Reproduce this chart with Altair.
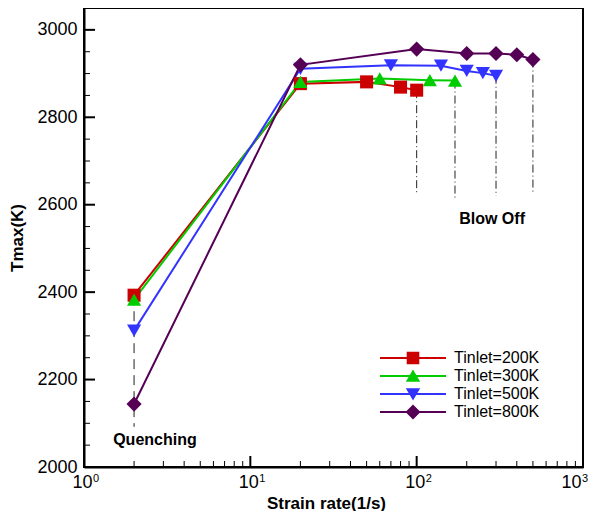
import altair as alt
import pandas as pd

series = ["Tinlet=200K", "Tinlet=300K", "Tinlet=500K", "Tinlet=800K"]
colors = ["#CC0000", "#00CC00", "#3333FF", "#550055"]
shapes = ["square", "triangle-up", "triangle-down", "diamond"]
marker_sizes = [170, 200, 200, 230]

rate_200 = [2, 20, 50, 80, 100]
tmax_200 = [2393, 2877, 2881, 2869, 2862]
rate_300 = [2, 20, 60, 120, 170]
tmax_300 = [2383, 2881, 2889, 2885, 2884]
rate_500 = [2, 20, 70, 140, 200, 250, 300]
tmax_500 = [2312, 2911, 2919, 2918, 2906, 2901, 2895]
rate_800 = [2, 20, 100, 200, 300, 400, 500]
tmax_800 = [2144, 2920, 2956, 2946, 2946, 2943, 2932]

# blow-off guide lines (x, top, bottom) and quenching guide line
blow_x = [100, 170, 300, 500]
blow_top = [2862, 2884, 2895, 2932]
blow_bottom = [2625, 2615, 2620, 2627]
quench_x = [2]
quench_top = [2393]
quench_bottom = [2092]

note_text = ["Quenching", "Blow Off"]
note_x = [2.67, 284]
note_y = [2062, 2567]

y_major = [2000, 2200, 2400, 2600, 2800, 3000]
y_minor = [v for v in range(2050, 3050, 50) if v % 200 != 0]
x_major = [1, 10, 100, 1000]
x_exp = ["0", "1", "2", "3"]
x_minor = [m * d for d in [1, 10, 100] for m in range(2, 10)]

# legend symbols: line segment + marker (custom SVG paths)
LINE = "M-5.5,-0.17H5.5V0.17H-5.5Z "
legend_paths = [
    LINE + "M-1.05,-1.05H1.05V1.05H-1.05Z",
    LINE + "M0,-1.1L1.2,0.95L-1.2,0.95Z",
    LINE + "M-1.2,-0.95L1.2,-0.95L0,1.1Z",
    LINE + "M0,-1.25L1.25,0L0,1.25L-1.25,0Z",
]

rows = []
for s, xs, ys in zip(series, [rate_200, rate_300, rate_500, rate_800],
                     [tmax_200, tmax_300, tmax_500, tmax_800]):
    for xv, yv in zip(xs, ys):
        rows.append({"series": s, "rate": xv, "tmax": yv})
df = pd.DataFrame(rows)

W, H = 499, 459
FONT = "Liberation Sans"

xscale = alt.Scale(type="log", domain=[1, 1000], nice=False)
yscale = alt.Scale(domain=[2000, 3050], nice=False, zero=False)

x_axis = alt.Axis(values=x_major, labelExpr="'10'", ticks=False, grid=False,
                  labelFontSize=18, labelPadding=6, labelFlush=False, labelOffset=-2,
                  labelAlign={"condition": {"test": "datum.value >= 1000", "value": "right"},
                              "value": "center"},
                  title="Strain rate(1/s)", titleFontSize=17, titleFontWeight="bold",
                  titlePadding=4, titleX=242, domainColor="black", domainWidth=2,
                  labelColor="black", titleColor="black", labelFont=FONT, titleFont=FONT)
y_axis = alt.Axis(values=y_major, format="d", ticks=False, grid=False, labelFontSize=18,
                  labelPadding=7, labelFlush=False, title="Tmax(K)", titleFontSize=17,
                  titleFontWeight="bold", titlePadding=10, domainColor="black",
                  domainWidth=2, labelColor="black", titleColor="black",
                  labelFont=FONT, titleFont=FONT)


def X(field):
    return alt.X(field, type="quantitative", scale=xscale, axis=x_axis)


def Y(field):
    return alt.Y(field, type="quantitative", scale=yscale, axis=y_axis)


base = alt.Chart(df)

line_layers = []
point_layers = []
for s, col, shp, sz in zip(series, colors, shapes, marker_sizes):
    sub = base.transform_filter(alt.datum.series == s)
    line_layers.append(sub.mark_line(strokeWidth=2, color=col).encode(
        x=X("rate"), y=Y("tmax")))
    point_layers.append(sub.mark_point(shape=shp, filled=True, size=sz, opacity=1,
                                       strokeWidth=0, color=col).encode(
        x=X("rate"), y=Y("tmax")))

blow_df = pd.DataFrame({"x": blow_x, "top": blow_top, "bottom": blow_bottom})
blow_rules = alt.Chart(blow_df).mark_rule(color="#222222", strokeWidth=1,
                                          strokeDash=[8, 3, 1, 3]).encode(
    x=X("x"), y=Y("top"), y2="bottom:Q")
quench_df = pd.DataFrame({"x": quench_x, "top": quench_top, "bottom": quench_bottom})
quench_rule = alt.Chart(quench_df).mark_rule(color="#222222", strokeWidth=1,
                                             strokeDash=[10, 6]).encode(
    x=X("x"), y=Y("top"), y2="bottom:Q")

notes_df = pd.DataFrame({"t": note_text, "x": note_x, "y": note_y})
notes = alt.Chart(notes_df).mark_text(font=FONT, fontSize=16, fontWeight="bold",
                                      color="black").encode(
    x=X("x"), y=Y("y"), text="t:N")

ymaj_df = pd.DataFrame({"v": y_major})
ymin_df = pd.DataFrame({"v": y_minor})
xmaj_df = pd.DataFrame({"v": x_major, "e": x_exp})
xmin_df = pd.DataFrame({"v": x_minor})

ymaj = alt.Chart(ymaj_df).mark_rule(color="black", strokeWidth=2).encode(
    y=Y("v"), x=alt.value(0), x2=alt.value(11))
ymin = alt.Chart(ymin_df).mark_rule(color="black", strokeWidth=1).encode(
    y=Y("v"), x=alt.value(0), x2=alt.value(6))
xmaj = alt.Chart(xmaj_df).mark_rule(color="black", strokeWidth=2).encode(
    x=X("v"), y=alt.value(H), y2=alt.value(H - 11))
xmin = alt.Chart(xmin_df).mark_rule(color="black", strokeWidth=1).encode(
    x=X("v"), y=alt.value(H), y2=alt.value(H - 6))
xexp = alt.Chart(xmaj_df).transform_filter(alt.datum.v < 1000).mark_text(
    font=FONT, fontSize=11, color="black", align="left", dx=9).encode(
    x=X("v"), y=alt.value(H + 12), text="e:N")
xexp_last = alt.Chart(xmaj_df).transform_filter(alt.datum.v >= 1000).mark_text(
    font=FONT, fontSize=11, color="black", align="left", dx=-1).encode(
    x=X("v"), y=alt.value(H + 12), text="e:N")

leg_kw = dict(title=None, orient="none", legendX=321, legendY=342, symbolOpacity=1,
              symbolSize=144, symbolStrokeWidth=0, labelOffset=33, labelFontSize=16,
              labelFont=FONT, labelColor="black", rowPadding=2)
legend_df = pd.DataFrame({"series": series})
legend_layer = alt.Chart(legend_df).mark_point(filled=True, opacity=0).encode(
    x=alt.value(0), y=alt.value(0),
    color=alt.Color("series:N", scale=alt.Scale(domain=series, range=colors),
                    legend=alt.Legend(**leg_kw)),
    shape=alt.Shape("series:N", scale=alt.Scale(domain=series, range=legend_paths),
                    legend=alt.Legend(**leg_kw)),
)

chart = alt.layer(
    blow_rules, quench_rule, *line_layers, *point_layers, notes,
    ymaj, ymin, xmaj, xmin, xexp, xexp_last, legend_layer
).properties(
    width=W, height=H,
    autosize=alt.AutoSizeParams(type="none"),
    padding={"left": 76, "top": 0, "right": 6, "bottom": 44},
).configure_view(stroke="black", strokeWidth=2)

chart.save("out.html", embed_options={"renderer": "svg", "actions": False})
